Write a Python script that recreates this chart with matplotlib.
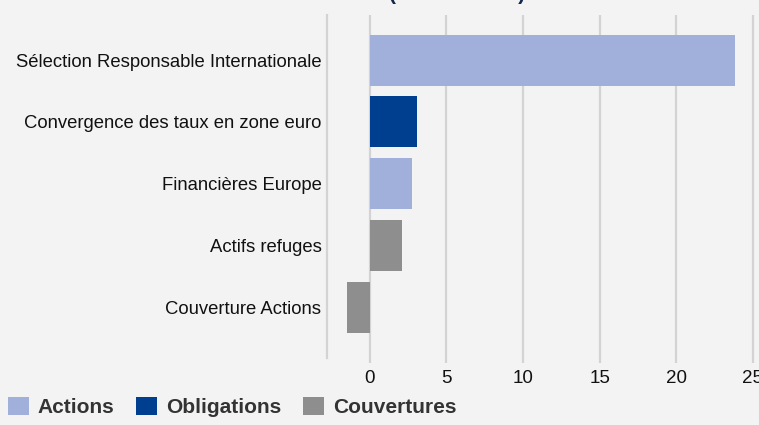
import matplotlib.pyplot as plt
from matplotlib.patches import Patch

# bars from top to bottom
fonds = ["Sélection Responsable Internationale",
         "Convergence des taux en zone euro",
         "Financières Europe",
         "Actifs refuges",
         "Couverture Actions"]
valeurs = [23.8, 3.1, 2.75, 2.1, -1.5]
classes = ["Actions", "Obligations", "Actions", "Couvertures", "Couvertures"]
ticks_x = [0, 5, 10, 15, 20, 25]

couleurs = {"Actions": "#a0b0da", "Obligations": "#003f8f", "Couvertures": "#8e8e8e"}
fond = "#f3f3f3"
grille = "#d3d3d3"

plt.rcParams['font.family'] = ['Liberation Sans', 'DejaVu Sans']

W, H = 759, 425
fig = plt.figure(figsize=(W / 100, H / 100), dpi=100, facecolor=fond)

# axes box in pixels: left 327, top 15, bottom 358, right runs off the canvas
x0, x1 = -2.8, 26.0
ppu = 15.32
left, top, bottom = 327, 15, 358
width = (x1 - x0) * ppu
ax = fig.add_axes([left / W, 1 - bottom / H, width / W, (bottom - top) / H])
ax.set_facecolor(fond)

pos = list(range(len(fonds)))
ax.barh(pos, valeurs, height=0.825,
        color=[couleurs[c] for c in classes], zorder=3)

ax.set_xlim(x0, x1)
ax.set_ylim(4.82, -0.73)
ax.set_yticks(pos)
ax.set_yticklabels(fonds, fontsize=13.3, color="#111111")
ax.set_xticks(ticks_x)
ax.set_xticklabels([str(t) for t in ticks_x], fontsize=13.5, color="#111111")
ax.tick_params(axis='y', length=0, pad=4)
ax.tick_params(axis='x', length=3.8, width=1.6, color=grille, pad=5)
ax.grid(axis='x', color=grille, linewidth=1.6, zorder=0)

for s in ["top", "right", "bottom"]:
    ax.spines[s].set_visible(False)
ax.spines["left"].set_color(grille)
ax.spines["left"].set_linewidth(1.6)

# title, mostly cut off by the top edge
fig.text(457 / W, 1 - 0.5 / H, "(contribution)", ha='center', va='baseline',
         fontsize=15, fontweight='bold', color="#14284b")

handles = [Patch(facecolor=couleurs[k], edgecolor='none', label=k)
           for k in ["Actions", "Obligations", "Couvertures"]]
leg = fig.legend(handles=handles, loc='center left',
                 bbox_to_anchor=(8 / W, 1 - 407 / H), ncol=3, frameon=False,
                 borderpad=0, borderaxespad=0, handlelength=1.0, handleheight=1.0,
                 handletextpad=0.43, columnspacing=1.05,
                 prop={'size': 15, 'weight': 'bold'})
for t in leg.get_texts():
    t.set_color("#333333")

fig.savefig("out.png", dpi=100, facecolor=fond)
